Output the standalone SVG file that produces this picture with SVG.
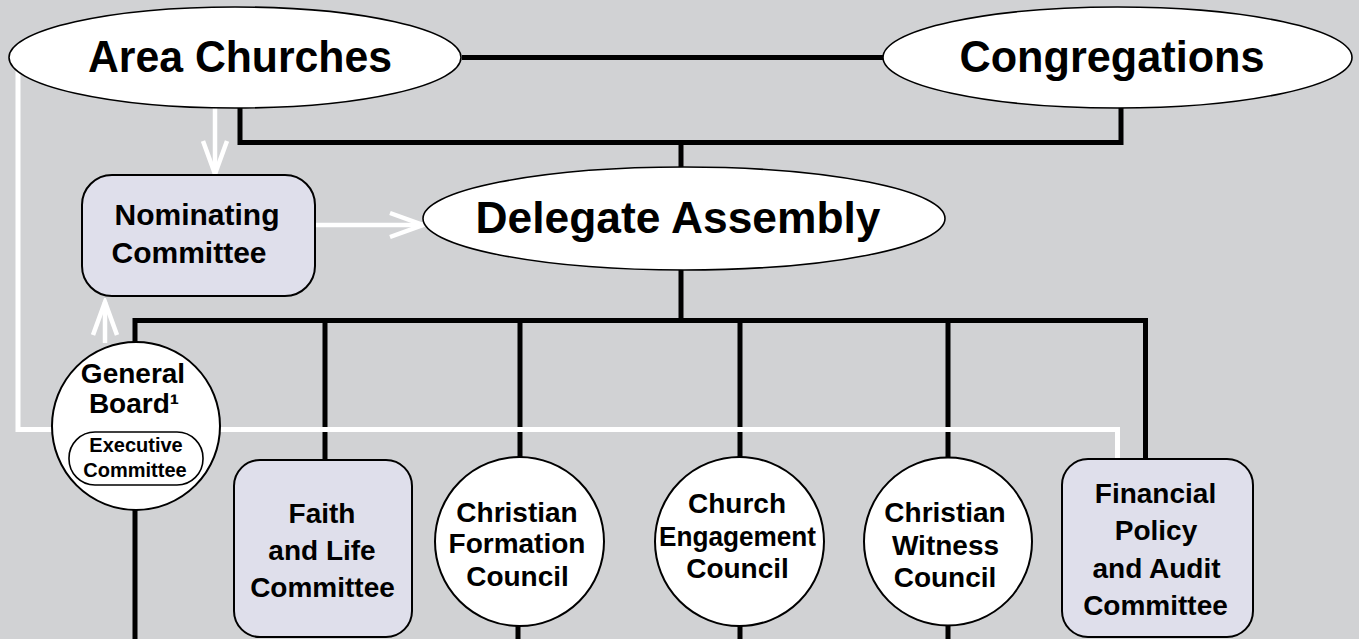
<svg xmlns="http://www.w3.org/2000/svg" width="1359" height="639" viewBox="0 0 1359 639">
<style>
.bg{fill:#d1d2d4}
.ell{fill:#fff;stroke:#000;stroke-width:1.6}
.circ{fill:#fff;stroke:#000;stroke-width:2}
.box{fill:#dfdfeb;stroke:#000;stroke-width:2}
.blk{fill:none;stroke:#000;stroke-width:5}
.wht{fill:none;stroke:#fff;stroke-width:5}
.warr{fill:none;stroke:#fff;stroke-width:4.5}
text{font-family:"Liberation Sans",Arial,sans-serif;font-weight:bold;fill:#000;text-anchor:middle}
.big{font-size:44px}
.mid{font-size:30px}
.med{font-size:28px}
.sm{font-size:20px}
</style>
<defs>
<marker id="openArrow" markerUnits="userSpaceOnUse" markerWidth="40" markerHeight="32" viewBox="0 0 40 32" refX="36" refY="16" orient="auto">
<path d="M3,4 L36,16 L3,28" fill="none" stroke="#fff" stroke-width="4.5"/>
</marker>
</defs>
<rect class="bg" x="0" y="0" width="1359" height="639"/>
<g id="connectors">
<path class="blk" d="M462,57.5 H883" stroke-width="4.5"/>
<path class="blk" d="M240,106 V142.5 H1121 V106"/>
<path class="blk" d="M681,142.5 V168"/>
<path class="blk" d="M681,269 V320"/>
<path class="blk" d="M135,343 V320.5 H1145.5 V460"/>
<path class="blk" d="M325,320 V461"/>
<path class="blk" d="M520,320 V458"/>
<path class="blk" d="M740,320 V458"/>
<path class="blk" d="M948,320 V458"/>
<path class="blk" d="M135,509 V639"/>
<path class="blk" d="M518,625 V639"/>
<path class="blk" d="M740,625 V639"/>
<path class="blk" d="M948,625 V639"/>
<path class="wht" d="M18,68 V429.5 H1117.5 V460"/>
<path class="warr" d="M215,108 V174" marker-end="url(#openArrow)"/>
<path class="warr" d="M315,225 H423" marker-end="url(#openArrow)"/>
<path class="warr" d="M105,343 V302" marker-end="url(#openArrow)"/>
</g>
<g id="area-churches">
<ellipse class="ell" cx="235" cy="57.5" rx="226" ry="50.5"/>
<text class="big" x="240" y="72" textLength="304" lengthAdjust="spacingAndGlyphs">Area Churches</text>
</g>
<g id="congregations">
<ellipse class="ell" cx="1117.5" cy="57.5" rx="234.5" ry="50.5"/>
<text class="big" x="1112" y="72" textLength="305" lengthAdjust="spacingAndGlyphs">Congregations</text>
</g>
<g id="delegate-assembly">
<ellipse class="ell" cx="684" cy="218.5" rx="261" ry="51.5"/>
<text class="big" x="678" y="233" textLength="405" lengthAdjust="spacingAndGlyphs">Delegate Assembly</text>
</g>
<g id="nominating-committee">
<rect class="box" x="82" y="175" width="233" height="121" rx="30" ry="30"/>
<text class="mid" x="197" y="225">Nominating</text>
<text class="mid" x="189" y="263">Committee</text>
</g>
<g id="general-board">
<circle class="circ" cx="136" cy="426" r="84"/>
<text class="med" x="133" y="383">General</text>
<text class="med" x="134" y="413">Board¹</text>
<rect fill="#fff" stroke="#000" stroke-width="1.6" x="69" y="432" width="134" height="53" rx="26" ry="26"/>
<text class="sm" x="136" y="452">Executive</text>
<text class="sm" x="135" y="477">Committee</text>
</g>
<g id="faith-and-life">
<rect class="box" x="234" y="460" width="178" height="177" rx="26" ry="26"/>
<text class="med" x="322" y="523">Faith</text>
<text class="med" x="322" y="560">and Life</text>
<text class="med" x="322.5" y="597">Committee</text>
</g>
<g id="christian-formation">
<circle class="circ" cx="519.5" cy="541.5" r="84.5"/>
<text class="med" x="517" y="522">Christian</text>
<text class="med" x="517" y="553">Formation</text>
<text class="med" x="517.5" y="586">Council</text>
</g>
<g id="church-engagement">
<circle class="circ" cx="739.5" cy="541.5" r="84.5"/>
<text class="med" x="737" y="513">Church</text>
<text class="med" x="737.5" y="546" textLength="157" lengthAdjust="spacingAndGlyphs">Engagement</text>
<text class="med" x="737.5" y="578">Council</text>
</g>
<g id="christian-witness">
<circle class="circ" cx="948" cy="541.5" r="84"/>
<text class="med" x="945" y="522">Christian</text>
<text class="med" x="945.5" y="555">Witness</text>
<text class="med" x="945" y="587">Council</text>
</g>
<g id="financial-policy">
<rect class="box" x="1062" y="459" width="191" height="178" rx="26" ry="26"/>
<text class="med" x="1155.5" y="503">Financial</text>
<text class="med" x="1156" y="540">Policy</text>
<text class="med" x="1156.5" y="578">and Audit</text>
<text class="med" x="1155.5" y="615">Committee</text>
</g>
</svg>
